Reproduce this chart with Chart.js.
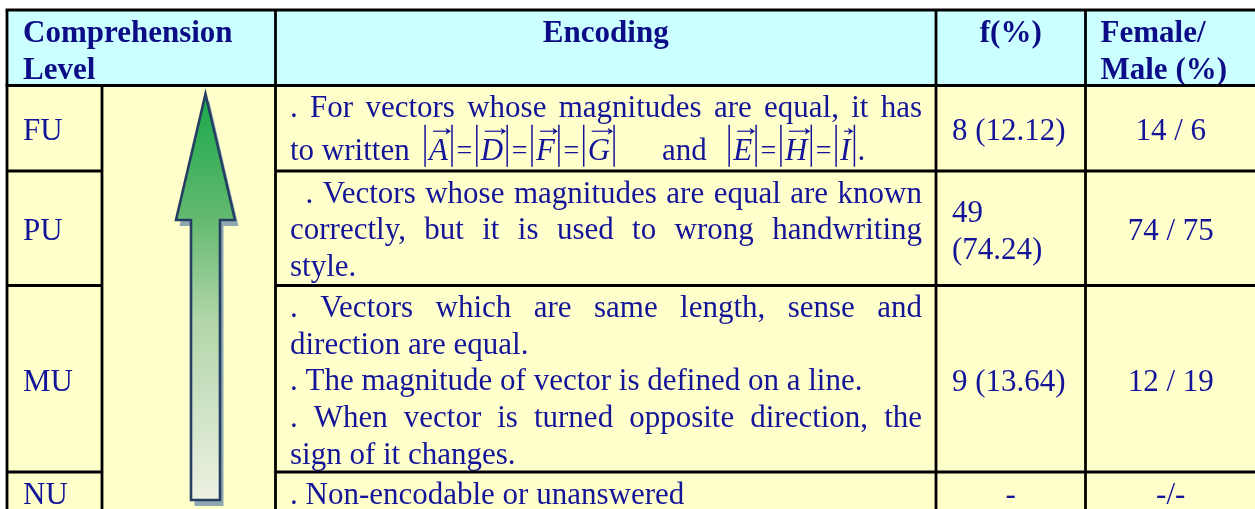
<!DOCTYPE html>
<html>
<head>
<meta charset="utf-8">
<title>Comprehension levels - vectors</title>
<script src="https://cdn.jsdelivr.net/npm/chart.js@4.4.1/dist/chart.umd.min.js"></script>
<style>
  html, body { margin: 0; padding: 0; background: #fff; }
  canvas { display: block; }
</style>
</head>
<body>
<canvas id="table" width="1255" height="509"></canvas>
<script>
// Table content
const headers = [['Comprehension', 'Level'], ['Encoding'], ['f(%)'], ['Female/', 'Male (%)']];
const levels = ['FU', 'PU', 'MU', 'NU'];
const encodings = [
  ['. For vectors whose magnitudes are equal, it has', 'to\u00a0written $A=D=F=G$ and $E=H=I$.'],
  ['  . Vectors whose magnitudes are equal are known', 'correctly, but it is used to wrong handwriting', 'style.'],
  ['. Vectors which are same length, sense and', 'direction are equal.', '. The magnitude of vector is defined on a line.', '. When vector is turned opposite direction, the', 'sign of it changes.'],
  ['. Non-encodable or unanswered']
];
const frequencies = ['8 (12.12)', '49 (74.24)', '9 (13.64)', '-'];
const femaleMale = ['14 / 6', '74 / 75', '12 / 19', '-/-'];

// Layout (in scale units, same as canvas pixels)
const colEdges = [7, 102, 275.5, 936, 1085.5, 1256];
const rowEdges = [10, 85.5, 171, 285.5, 472, 512];
const lineH = 36.7;
const mathGaps = [1.6, 5.8, 2.5]; // gaps on the formula line, in spaces
const arrowShape = { x: 205.5, tip: 94, headBase: 220, headHalf: 29.5, shaftHalf: 14.5, bottom: 500 };

const BODY_FONT = '31px "Liberation Serif"';
const HEAD_FONT = 'bold 31px "Liberation Serif"';
const MATH_FONT = 'italic 31px "Liberation Serif"';
const EQ_FONT = '28px "Liberation Serif"';
const HEAD_COLOR = '#0c0c87';
const TEXT_COLOR = '#141499';

let chart = null;

const parseTok = (w) => {
  let m = w.match(/^\$(.+)\$(.*)$/);
  if (m) return { math: true, letters: m[1].split('='), suffix: m[2] };
  return { math: false, text: w };
};

const drawMath = (ctx, tok, x, y, draw) => {
  let cx = x;
  const bar = (bx) => {
    ctx.beginPath();
    ctx.lineWidth = 1.5;
    ctx.moveTo(bx, y - 35);
    ctx.lineTo(bx, y + 7);
    ctx.stroke();
  };
  tok.letters.forEach((L, i) => {
    if (i > 0) {
      ctx.font = EQ_FONT;
      let w = ctx.measureText('=').width;
      if (draw) ctx.fillText('=', cx + 1.5, y - 1);
      cx += w + 3;
    }
    if (draw) bar(cx + 3);
    cx += 6;
    ctx.font = MATH_FONT;
    let lw = ctx.measureText(L).width;
    if (draw) {
      ctx.fillText(L, cx + 1, y);
      let ay = y - 28.5, x0 = cx + 5, x1 = cx + lw + 3;
      ctx.beginPath();
      ctx.lineWidth = 1.2;
      ctx.moveTo(x0, ay);
      ctx.lineTo(x1 - 2, ay);
      ctx.stroke();
      ctx.beginPath();
      ctx.moveTo(x1 + 1, ay);
      ctx.lineTo(x1 - 4.5, ay - 3.5);
      ctx.lineTo(x1 - 3, ay);
      ctx.lineTo(x1 - 4.5, ay + 3.5);
      ctx.closePath();
      ctx.fill();
    }
    cx += lw + 2;
    if (draw) bar(cx + 3);
    cx += 6;
  });
  if (tok.suffix) {
    ctx.font = BODY_FONT;
    if (draw) ctx.fillText(tok.suffix, cx, y);
    cx += ctx.measureText(tok.suffix).width;
  }
  ctx.font = BODY_FONT;
  return cx - x;
};

const drawTextLine = (ctx, line, x0, x1, y, justify) => {
  ctx.font = BODY_FONT;
  const sp = ctx.measureText(' ').width;
  const lead = line.length - line.trimStart().length;
  const toks = line.trim().split(/ +/).map(parseTok);
  const widths = toks.map(t => t.math ? drawMath(ctx, t, 0, 0, false) : ctx.measureText(t.text).width);
  const start = x0 + lead * sp;
  const total = widths.reduce((a, b) => a + b, 0);
  let gaps = toks.map(() => sp);
  if (toks.some(t => t.math)) {
    gaps = toks.map((t, i) => (mathGaps[i] || 1) * sp);
  } else if (justify && toks.length > 1) {
    const g = (x1 - start - total) / (toks.length - 1);
    gaps = toks.map(() => g);
  }
  let cx = start;
  toks.forEach((t, i) => {
    if (t.math) drawMath(ctx, t, cx, y, true);
    else { ctx.font = BODY_FONT; ctx.fillText(t.text, cx, y); }
    cx += widths[i] + gaps[i];
  });
};

const wrapText = (ctx, text, maxW) => {
  let words = text.split(' ');
  let lines = [];
  let cur = '';
  words.forEach(w => {
    let test = cur ? cur + ' ' + w : w;
    if (cur && ctx.measureText(test).width > maxW) { lines.push(cur); cur = w; }
    else cur = test;
  });
  lines.push(cur);
  return lines;
};

const tablePlugin = {
  id: 'tablePlugin',
  afterDraw: (c) => {
    const ctx = c.ctx;
    const sx = c.scales.x, sy = c.scales.y;
    const px = v => sx.getPixelForValue(v);
    const py = v => sy.getPixelForValue(v);
    const L = colEdges.map(px);
    const R = rowEdges.map(py);
    ctx.save();
    ctx.fillStyle = '#ffffff';
    ctx.fillRect(0, 0, c.width, c.height);

    // cell backgrounds
    ctx.fillStyle = '#ccffff';
    ctx.fillRect(L[0], R[0], L[5] - L[0], R[1] - R[0]);
    ctx.fillStyle = '#ffffcc';
    ctx.fillRect(L[0], R[1], L[5] - L[0], R[5] - R[1]);

    // arrow in the level column
    const a = arrowShape;
    const arrowPath = (dx, dy) => {
      ctx.beginPath();
      ctx.moveTo(px(a.x) + dx, py(a.tip) + dy);
      ctx.lineTo(px(a.x + a.headHalf) + dx, py(a.headBase) + dy);
      ctx.lineTo(px(a.x + a.shaftHalf) + dx, py(a.headBase) + dy);
      ctx.lineTo(px(a.x + a.shaftHalf) + dx, py(a.bottom) + dy);
      ctx.lineTo(px(a.x - a.shaftHalf) + dx, py(a.bottom) + dy);
      ctx.lineTo(px(a.x - a.shaftHalf) + dx, py(a.headBase) + dy);
      ctx.lineTo(px(a.x - a.headHalf) + dx, py(a.headBase) + dy);
      ctx.closePath();
    };
    arrowPath(3.5, 6);
    ctx.fillStyle = '#8ea8b2';
    ctx.fill();
    arrowPath(0, 0);
    let grad = ctx.createLinearGradient(0, py(a.tip), 0, py(a.bottom));
    grad.addColorStop(0, '#18a84a');
    grad.addColorStop(0.3, '#62b96e');
    grad.addColorStop(0.55, '#b0d5a8');
    grad.addColorStop(1, '#eef1e3');
    ctx.fillStyle = grad;
    ctx.fill();
    ctx.lineWidth = 2.6;
    ctx.strokeStyle = '#243f62';
    ctx.lineJoin = 'miter';
    ctx.stroke();

    // header text
    ctx.textBaseline = 'alphabetic';
    ctx.fillStyle = HEAD_COLOR;
    ctx.font = HEAD_FONT;
    const hy = py(42);
    ctx.textAlign = 'left';
    headers[0].forEach((t, i) => ctx.fillText(t, L[0] + 16, hy + i * 37));
    ctx.textAlign = 'center';
    headers[1].forEach((t, i) => ctx.fillText(t, (L[2] + L[3]) / 2, hy + i * 37));
    headers[2].forEach((t, i) => ctx.fillText(t, (L[3] + L[4]) / 2, hy + i * 37));
    ctx.textAlign = 'left';
    headers[3].forEach((t, i) => ctx.fillText(t, L[4] + 15, hy + i * 37));

    // body text
    ctx.fillStyle = TEXT_COLOR;
    ctx.strokeStyle = TEXT_COLOR;
    ctx.font = BODY_FONT;
    levels.forEach((lv, r) => {
      const top = R[r + 1], bot = R[r + 2];
      const mid = (top + bot) / 2;
      ctx.textAlign = 'left';
      ctx.fillText(lv, L[0] + 16, mid + 12);

      // encoding, top aligned & justified
      const lines = encodings[r];
      const hasMath = lines.some(l => l.includes('$'));
      lines.forEach((ln, i) => {
        const justify = i < lines.length - 1 && !/\.$/.test(ln.trim());
        let y = top + 31.5 + i * lineH + (i > 0 && hasMath ? 6 : 0);
        ctx.textAlign = 'left';
        drawTextLine(ctx, ln, L[2] + 14.5, L[3] - 14, y, justify);
      });

      // frequency
      ctx.font = BODY_FONT;
      const fl = wrapText(ctx, frequencies[r], L[4] - L[3] - 22);
      const fy = mid + 12 - (fl.length - 1) * lineH / 2;
      fl.forEach((t, i) => {
        if (t === '-') { ctx.textAlign = 'center'; ctx.fillText(t, (L[3] + L[4]) / 2, fy + i * lineH); }
        else { ctx.textAlign = 'left'; ctx.fillText(t, L[3] + 16, fy + i * lineH); }
      });

      // female / male
      ctx.textAlign = 'center';
      ctx.fillText(femaleMale[r], (L[4] + L[5]) / 2, mid + 12);
    });

    // grid lines
    ctx.strokeStyle = '#000000';
    ctx.lineWidth = 2.8;
    ctx.lineCap = 'butt';
    const seg = (x0, y0, x1, y1) => {
      ctx.beginPath();
      ctx.moveTo(x0, y0);
      ctx.lineTo(x1, y1);
      ctx.stroke();
    };
    seg(L[0] - 1.4, R[0], L[5], R[0]);
    seg(L[0] - 1.4, R[1], L[5], R[1]);
    seg(L[0], R[0], L[0], R[5]);
    seg(L[1], R[1], L[1], R[5]);
    for (let k = 2; k <= 4; k++) seg(L[k], R[0], L[k], R[5]);
    for (let k = 2; k <= 4; k++) {
      seg(L[0], R[k], L[1], R[k]);
      seg(L[2], R[k], L[5], R[k]);
    }
    ctx.restore();
  }
};

chart = new Chart(document.getElementById('table'), {
  type: 'scatter',
  data: { datasets: [] },
  options: {
    responsive: false,
    devicePixelRatio: 1,
    animation: false,
    events: [],
    layout: { padding: 0 },
    scales: {
      x: { type: 'linear', min: 0, max: 1255, display: false },
      y: { type: 'linear', min: 0, max: 509, reverse: true, display: false }
    },
    plugins: {
      legend: { display: false },
      tooltip: { enabled: false }
    }
  },
  plugins: [tablePlugin]
});
</script>
</body>
</html>
